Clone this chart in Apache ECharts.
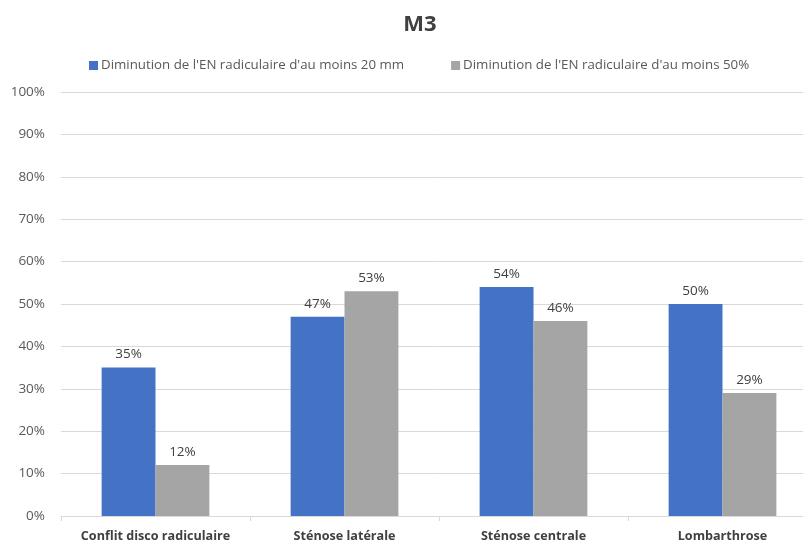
<!DOCTYPE html>
<html><head><meta charset="utf-8">
<script src="https://cdn.jsdelivr.net/npm/echarts@6/dist/echarts.min.js"></script>
<style>html,body{margin:0;padding:0;background:#fff}#c{width:803px;height:543px}</style>
</head><body><div id="c"></div>
<script>
const categories = ["Conflit disco radiculaire", "Sténose latérale", "Sténose centrale", "Lombarthrose"];
const seriesNames = ["Diminution de l'EN radiculaire d'au moins 20 mm", "Diminution de l'EN radiculaire d'au moins 50%"];
const values20mm = [35, 47, 54, 50];
const values50pct = [12, 53, 46, 29];

const chart = echarts.init(document.getElementById('c'));
const font = "'Open Sans', 'Liberation Sans', sans-serif";
const lbl = {show: true, position: 'top', formatter: p => p.value + '%', color: '#404040', fontSize: 13.5, fontFamily: font, distance: 6};
chart.setOption({
  animation: false,
  title: {text: 'M3', left: 415, top: 9, textAlign: 'center', textStyle: {fontSize: 22, fontWeight: 'bold', color: '#404040', fontFamily: font}},
  legend: {top: 54, left: 84, itemGap: 47, itemWidth: 9, itemHeight: 9, icon: 'rect',
    textStyle: {fontSize: 13.3, color: '#595959', fontFamily: font, padding: [0, 0, 0, -2]},
    data: seriesNames},
  grid: {left: 61, top: 92, width: 756, height: 424, containLabel: false, outerBoundsMode: 'none'},
  xAxis: {type: 'category', data: categories,
    axisLine: {lineStyle: {color: '#d9d9d9'}},
    axisTick: {show: true, interval: 0, length: 5, lineStyle: {color: '#d9d9d9'}},
    axisLabel: {interval: 0, hideOverlap: false, fontSize: 12.6, fontWeight: 'bold', color: '#404040', fontFamily: font, margin: 14}},
  yAxis: {type: 'value', min: 0, max: 100, interval: 10,
    axisLabel: {formatter: '{value}%', fontSize: 13.5, color: '#595959', fontFamily: font, margin: 16},
    splitLine: {lineStyle: {color: '#d9d9d9'}},
    axisLine: {show: false}, axisTick: {show: false}},
  series: [
    {name: seriesNames[0], type: 'bar', data: values20mm, itemStyle: {color: '#4472C4'}, barGap: '0%', barCategoryGap: '43%', label: lbl},
    {name: seriesNames[1], type: 'bar', data: values50pct, itemStyle: {color: '#A5A5A5'}, label: lbl}
  ]
});
</script></body></html>
